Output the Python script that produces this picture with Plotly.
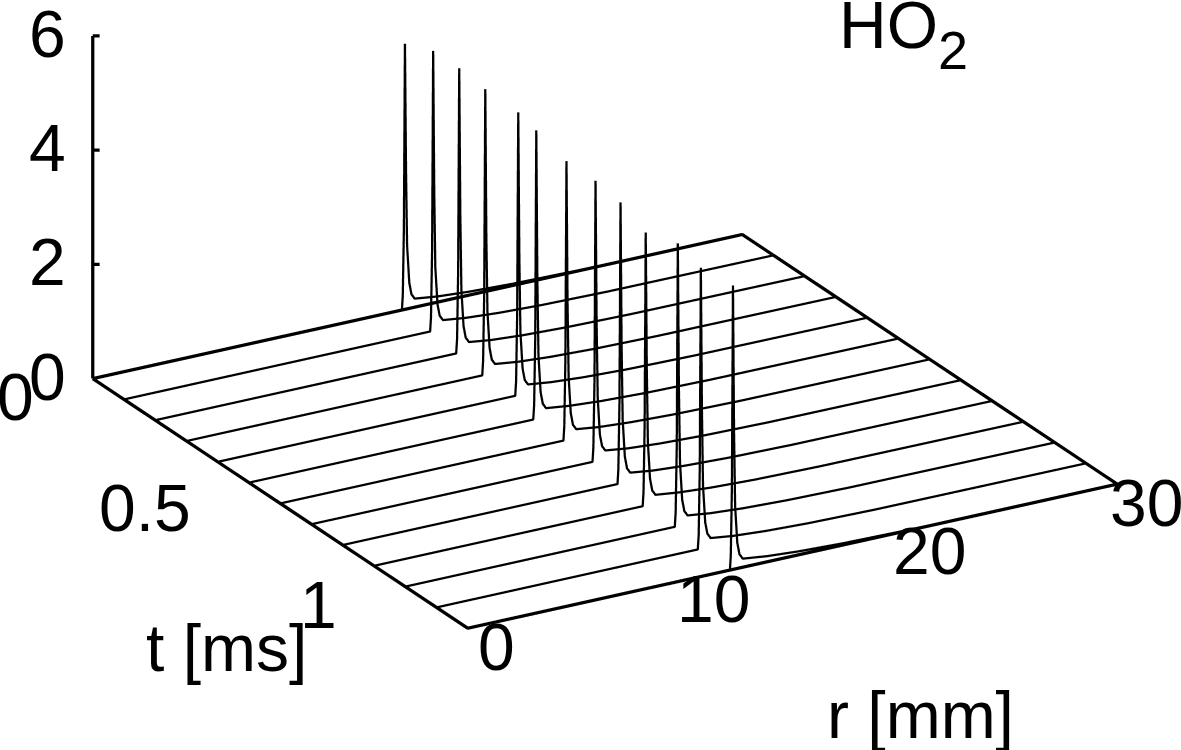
import math
import plotly.graph_objects as go

TIMES = [0.0, 0.1, 0.2, 0.3, 0.4, 0.5, 0.6, 0.7, 0.8, 0.9, 1.0, 1.1, 1.2]
R_CURVES = [
    [0, 14.28, 14.32, 14.37, 14.42, 14.47, 14.52, 14.62, 14.72, 14.87, 15.9, 17.4, 19.4, 22.4, 30],
    [0, 14.14, 14.18, 14.23, 14.28, 14.33, 14.38, 14.48, 14.58, 14.73, 15.8, 17.3, 19.3, 22.3, 30],
    [0, 13.90, 13.94, 13.99, 14.04, 14.09, 14.14, 14.24, 14.34, 14.49, 15.5, 17.0, 19.0, 22.0, 30],
    [0, 13.66, 13.70, 13.75, 13.80, 13.85, 13.90, 14.00, 14.10, 14.25, 15.3, 16.8, 18.8, 21.8, 30],
    [0, 13.74, 13.78, 13.83, 13.88, 13.93, 13.98, 14.08, 14.18, 14.33, 15.4, 16.9, 18.9, 21.9, 30],
    [0, 13.13, 13.17, 13.22, 13.27, 13.32, 13.37, 13.47, 13.57, 13.72, 14.8, 16.3, 18.3, 21.3, 30],
    [0, 13.08, 13.12, 13.17, 13.22, 13.27, 13.32, 13.42, 13.52, 13.67, 14.7, 16.2, 18.2, 21.2, 30],
    [0, 12.98, 13.02, 13.07, 13.12, 13.17, 13.22, 13.32, 13.42, 13.57, 14.6, 16.1, 18.1, 21.1, 30],
    [0, 12.69, 12.73, 12.78, 12.83, 12.88, 12.93, 13.03, 13.13, 13.28, 14.3, 15.8, 17.8, 20.8, 30],
    [0, 12.41, 12.45, 12.50, 12.55, 12.60, 12.65, 12.75, 12.85, 13.00, 14.1, 15.6, 17.6, 20.6, 30],
    [0, 12.45, 12.49, 12.54, 12.59, 12.64, 12.69, 12.79, 12.89, 13.04, 14.1, 15.6, 17.6, 20.6, 30],
    [0, 12.07, 12.11, 12.16, 12.21, 12.26, 12.31, 12.41, 12.51, 12.66, 13.7, 15.2, 17.2, 20.2, 30],
    [0, 12.11, 12.15, 12.20, 12.25, 12.30, 12.35, 12.45, 12.55, 12.70, 13.8, 15.3, 17.3, 20.3, 30],
]
Z_CURVES = [
    [0, 0, 0.25, 1.4, 4.65, 2.4, 1.1, 0.45, 0.24, 0.15, 0.10, 0.06, 0.03, 0.01, 0],
    [0, 0, 0.25, 1.4, 4.90, 2.4, 1.1, 0.45, 0.24, 0.15, 0.10, 0.06, 0.03, 0.01, 0],
    [0, 0, 0.25, 1.4, 4.98, 2.4, 1.1, 0.45, 0.24, 0.15, 0.10, 0.06, 0.03, 0.01, 0],
    [0, 0, 0.25, 1.4, 5.00, 2.4, 1.1, 0.45, 0.24, 0.15, 0.10, 0.06, 0.03, 0.01, 0],
    [0, 0, 0.25, 1.4, 4.95, 2.4, 1.1, 0.45, 0.24, 0.15, 0.10, 0.06, 0.03, 0.01, 0],
    [0, 0, 0.25, 1.4, 5.05, 2.4, 1.1, 0.45, 0.24, 0.15, 0.10, 0.06, 0.03, 0.01, 0],
    [0, 0, 0.25, 1.4, 4.88, 2.4, 1.1, 0.45, 0.24, 0.15, 0.10, 0.06, 0.03, 0.01, 0],
    [0, 0, 0.25, 1.4, 4.91, 2.4, 1.1, 0.45, 0.24, 0.15, 0.10, 0.06, 0.03, 0.01, 0],
    [0, 0, 0.25, 1.4, 4.92, 2.4, 1.1, 0.45, 0.24, 0.15, 0.10, 0.06, 0.03, 0.01, 0],
    [0, 0, 0.25, 1.4, 4.78, 2.4, 1.1, 0.45, 0.24, 0.15, 0.10, 0.06, 0.03, 0.01, 0],
    [0, 0, 0.25, 1.4, 4.95, 2.4, 1.1, 0.45, 0.24, 0.15, 0.10, 0.06, 0.03, 0.01, 0],
    [0, 0, 0.25, 1.4, 4.92, 2.4, 1.1, 0.45, 0.24, 0.15, 0.10, 0.06, 0.03, 0.01, 0],
    [0, 0, 0.25, 1.4, 4.97, 2.4, 1.1, 0.45, 0.24, 0.15, 0.10, 0.06, 0.03, 0.01, 0],
]
R_TICKS = [0, 10, 20, 30]
T_TICKS = [0, 0.5, 1]
Z_TICKS = [0, 2, 4, 6]
T_TICK_LABELS = ["0", "0.5", "1"]
R_MAX, T_MAX, Z_MAX = 30, 1.2, 6

FONT = "Liberation Sans"
TICK_SIZE = 66
INK = "#000000"
CURVE_W, BORDER_W = 4.5, 6.5

# Camera: azimuth 30 degrees, elevation 22.6 degrees, orthographic
AZ, EL = math.radians(30), math.radians(22.6)
right = (math.cos(AZ), -math.sin(AZ), 0)
up = (math.sin(AZ) * math.sin(EL), math.cos(AZ) * math.sin(EL), math.cos(EL))
back = (-math.sin(AZ) * math.cos(EL), -math.cos(AZ) * math.cos(EL), math.sin(EL))
DIST = 4.0
WORLD_PER_PX = 1 / 375.0
SHIFT_X, SHIFT_Y = 14.5, 115.0
center = [-(SHIFT_X * right[i] + SHIFT_Y * up[i]) * WORLD_PER_PX for i in range(3)]
eye = [center[i] + DIST * back[i] for i in range(3)]

fig = go.Figure()
for t, rs, zs in zip(TIMES, R_CURVES, Z_CURVES):
    fig.add_trace(go.Scatter3d(x=rs, y=[t] * len(rs), z=zs, mode="lines",
                               line=dict(color=INK, width=CURVE_W), hoverinfo="skip"))

# base rectangle and z axis
fig.add_trace(go.Scatter3d(x=[0, R_MAX, R_MAX, 0, 0], y=[0, 0, T_MAX, T_MAX, 0], z=[0] * 5,
                           mode="lines", line=dict(color=INK, width=BORDER_W), hoverinfo="skip"))
fig.add_trace(go.Scatter3d(x=[0, 0], y=[0, 0], z=[0, Z_MAX], mode="lines",
                           line=dict(color=INK, width=BORDER_W), hoverinfo="skip"))
for zt in Z_TICKS[1:]:
    fig.add_trace(go.Scatter3d(x=[0, 0.24], y=[0, 0.0056], z=[zt, zt], mode="lines",
                               line=dict(color=INK, width=BORDER_W), hoverinfo="skip"))

tick_font = dict(family=FONT, size=TICK_SIZE, color=INK)
scene_notes = []
for zt in Z_TICKS:
    scene_notes.append(dict(x=0, y=0, z=zt, text=str(zt), showarrow=False, xanchor="right",
                            yanchor="middle", xshift=-25, yshift=2, font=tick_font))
T_SHIFTS = [(-57, -18), (-56, -25), (-66, -18)]
for tv, lab, (sx, sy) in zip(T_TICKS, T_TICK_LABELS, T_SHIFTS):
    scene_notes.append(dict(x=0, y=tv, z=0, text=lab, showarrow=False, xanchor="right",
                            yanchor="middle", xshift=sx, yshift=sy, font=tick_font))
for rv in R_TICKS:
    scene_notes.append(dict(x=rv, y=T_MAX, z=0, text=str(rv), showarrow=False, xanchor="center",
                            yanchor="middle", xshift=29, yshift=-19, font=tick_font))

axis_off = dict(visible=False, showgrid=False, zeroline=False, showspikes=False)
fig.update_layout(
    width=1181, height=750, margin=dict(l=0, r=0, t=0, b=0), showlegend=False,
    paper_bgcolor="white", font=dict(family=FONT, color=INK),
    scene=dict(
        domain=dict(x=[0, 1], y=[0, 1]),
        xaxis=dict(range=[0, R_MAX], **axis_off),
        yaxis=dict(range=[T_MAX, 0], **axis_off),
        zaxis=dict(range=[0, Z_MAX], **axis_off),
        aspectmode="manual", aspectratio=dict(x=2, y=2, z=0.99),
        camera=dict(projection=dict(type="orthographic"),
                    up=dict(x=0, y=0, z=1),
                    center=dict(x=center[0], y=center[1], z=center[2]),
                    eye=dict(x=eye[0], y=eye[1], z=eye[2])),
        annotations=scene_notes,
    ),
    annotations=[
        dict(text="t [ms]", x=226 / 1181, y=1 - 648 / 750, xref="paper", yref="paper",
             xanchor="center", yanchor="middle", showarrow=False, font=tick_font),
        dict(text="r [mm]", x=920 / 1181, y=1 - 715 / 750, xref="paper", yref="paper",
             xanchor="center", yanchor="middle", showarrow=False, font=tick_font),
        dict(text='<span style="font-size:66px">HO</span><sub><span style="font-size:54px">2</span></sub>',
             x=903 / 1181, y=1 - 34 / 750, xref="paper", yref="paper",
             xanchor="center", yanchor="middle", showarrow=False,
             font=dict(family=FONT, size=100, color=INK)),
    ],
)
fig.write_html("out.html", post_script="document.body.style.margin='0';",
               config=dict(displayModeBar=False))
